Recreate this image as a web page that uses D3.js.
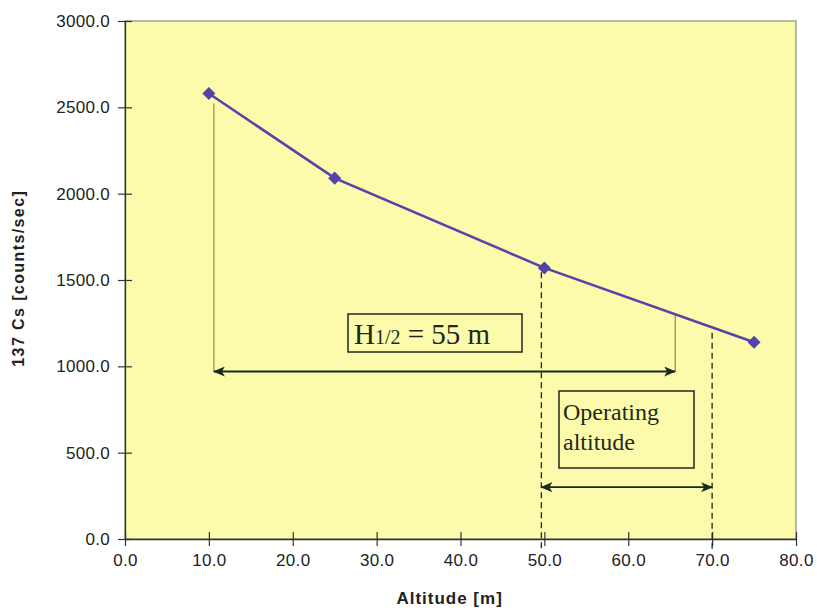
<!DOCTYPE html>
<html>
<head>
<meta charset="utf-8">
<script src="https://cdn.jsdelivr.net/npm/d3@7"></script>
<style>
  body { margin: 0; background: #fff; }
  text { font-family: "Liberation Sans", Arial, sans-serif; }
  .serif { font-family: "Liberation Serif", "Times New Roman", serif; }
</style>
</head>
<body>
<svg id="chart" width="817" height="612"></svg>
<script>
// data
const altitudes = [10, 25, 50, 75];
const counts = [2580, 2090, 1570, 1140];

const xTicks = [0, 10, 20, 30, 40, 50, 60, 70, 80];
const yTicks = [0, 500, 1000, 1500, 2000, 2500, 3000];

// annotation values (data units)
const halfStart = 10.6;     // left end of H1/2 arrow
const halfEnd = 65.6;       // right end of H1/2 arrow
const halfLevel = 970;      // level of H1/2 arrow
const opStart = 50;
const opEnd = 70;
const opLevel = 300;

const margin = { top: 21, right: 21, bottom: 73, left: 125 };

const svg = d3.select('#chart');
const width = +svg.attr('width') - margin.left - margin.right;
const height = +svg.attr('height') - margin.top - margin.bottom;

const g = svg.append('g')
  .attr('transform', `translate(${margin.left},${margin.top})`);

const x = d3.scaleLinear().domain([0, 80]).range([0, width]);
const y = d3.scaleLinear().domain([0, 3000]).range([height, 0]);

// plot area
g.append('rect')
  .attr('width', width)
  .attr('height', height)
  .attr('fill', '#fcfaab')
  .attr('stroke', '#8a8a80')
  .attr('stroke-width', 1.2);

// axes
const xAxis = g.append('g')
  .attr('transform', `translate(0,${height})`)
  .call(d3.axisBottom(x).tickValues(xTicks).tickFormat(d3.format('.1f'))
    .tickSizeInner(7).tickSizeOuter(0).tickPadding(8));
xAxis.selectAll('.tick line').attr('y1', -7);

const yAxis = g.append('g')
  .call(d3.axisLeft(y).tickValues(yTicks).tickFormat(d3.format('.1f'))
    .tickSizeInner(7).tickSizeOuter(0).tickPadding(8));
yAxis.selectAll('.tick line').attr('x1', 7).attr('x2', -7);

[xAxis, yAxis].forEach(ax => {
  ax.select('.domain').attr('stroke', '#333').attr('stroke-width', 1.3);
  ax.selectAll('.tick line').attr('stroke', '#333').attr('stroke-width', 1.2);
  ax.selectAll('.tick text').style('font-size', '17px').attr('fill', '#222')
    .attr('letter-spacing', 0.3)
    .style('font-family', '"Liberation Sans", Arial, sans-serif');
});

// axis titles
svg.append('text')
  .attr('x', margin.left + x(38.7))
  .attr('y', 604)
  .attr('text-anchor', 'middle')
  .attr('font-size', 17)
  .attr('font-weight', 'bold')
  .attr('letter-spacing', 1)
  .attr('fill', '#222')
  .text('Altitude [m]');

svg.append('text')
  .attr('transform', `translate(24,${margin.top + y(1510)}) rotate(-90)`)
  .attr('text-anchor', 'middle')
  .attr('font-size', 16)
  .attr('font-weight', 'bold')
  .attr('letter-spacing', 1.4)
  .attr('fill', '#222')
  .text('137 Cs [counts/sec]');

// arrow markers
const defs = svg.append('defs');
defs.append('marker')
  .attr('id', 'arrow')
  .attr('viewBox', '0 0 12 10')
  .attr('refX', 11).attr('refY', 5)
  .attr('markerWidth', 12).attr('markerHeight', 10)
  .attr('markerUnits', 'userSpaceOnUse')
  .attr('orient', 'auto-start-reverse')
  .append('path').attr('d', 'M0,0 L12,5 L0,10 L3,5 z').attr('fill', '#1c2a1c');

const olive = '#8c8a50';
const dark = '#1c2a1c';

// H1/2 guide lines
g.append('line')
  .attr('x1', x(halfStart)).attr('x2', x(halfStart))
  .attr('y1', y(counts[0]) + 10).attr('y2', y(halfLevel))
  .attr('stroke', olive).attr('stroke-width', 1.2);
g.append('line')
  .attr('x1', x(halfEnd)).attr('x2', x(halfEnd))
  .attr('y1', y(1300)).attr('y2', y(halfLevel))
  .attr('stroke', olive).attr('stroke-width', 1.2);
g.append('line')
  .attr('x1', x(halfStart)).attr('x2', x(halfEnd))
  .attr('y1', y(halfLevel)).attr('y2', y(halfLevel))
  .attr('stroke', dark).attr('stroke-width', 1.8)
  .attr('marker-start', 'url(#arrow)')
  .attr('marker-end', 'url(#arrow)');

// operating altitude dashed lines
g.append('line')
  .attr('x1', x(opStart) - 3).attr('x2', x(opStart) - 3)
  .attr('y1', y(1545)).attr('y2', height + 12)
  .attr('stroke', dark).attr('stroke-width', 1.3)
  .attr('stroke-dasharray', '6,4');
g.append('line')
  .attr('x1', x(opEnd)).attr('x2', x(opEnd))
  .attr('y1', y(1195)).attr('y2', height + 13)
  .attr('stroke', dark).attr('stroke-width', 1.3)
  .attr('stroke-dasharray', '6,4');
g.append('line')
  .attr('x1', x(opStart) - 3).attr('x2', x(opEnd))
  .attr('y1', y(opLevel)).attr('y2', y(opLevel))
  .attr('stroke', dark).attr('stroke-width', 1.8)
  .attr('marker-start', 'url(#arrow)')
  .attr('marker-end', 'url(#arrow)');

// data line
const pts = altitudes.map((a, i) => [a, counts[i]]);
g.append('path')
  .datum(pts)
  .attr('fill', 'none')
  .attr('stroke', '#5544a8')
  .attr('stroke-width', 2.6)
  .attr('d', d3.line().x(d => x(d[0])).y(d => y(d[1])));

g.selectAll('path.pt')
  .data(pts)
  .enter()
  .append('path')
  .attr('class', 'pt')
  .attr('d', d3.symbol().type(d3.symbolSquare).size(85))
  .attr('transform', d => `translate(${x(d[0])},${y(d[1])}) rotate(45)`)
  .attr('fill', '#5544a8');

// H1/2 label box
const hb = g.append('g').attr('transform', `translate(${348 - margin.left},${314 - margin.top})`);
hb.append('rect').attr('width', 174).attr('height', 38)
  .attr('fill', 'none').attr('stroke', dark).attr('stroke-width', 1.5);
const ht = hb.append('text').attr('class', 'serif')
  .attr('x', 6).attr('y', 30).attr('font-size', 29).attr('fill', '#1c2a1c');
ht.append('tspan').text('H');
ht.append('tspan').attr('font-size', 20).text('1/2');
ht.append('tspan').text(' = 55 m');

// operating altitude box
const ob = g.append('g').attr('transform', `translate(${559 - margin.left},${391 - margin.top})`);
ob.append('rect').attr('width', 135).attr('height', 77)
  .attr('fill', 'none').attr('stroke', dark).attr('stroke-width', 1.5);
ob.selectAll('text')
  .data(['Operating', 'altitude'])
  .enter()
  .append('text')
  .attr('class', 'serif')
  .attr('x', 4)
  .attr('y', (d, i) => 29 + i * 30)
  .attr('font-size', 24)
  .attr('fill', '#1c2a1c')
  .text(d => d);
</script>
</body>
</html>
